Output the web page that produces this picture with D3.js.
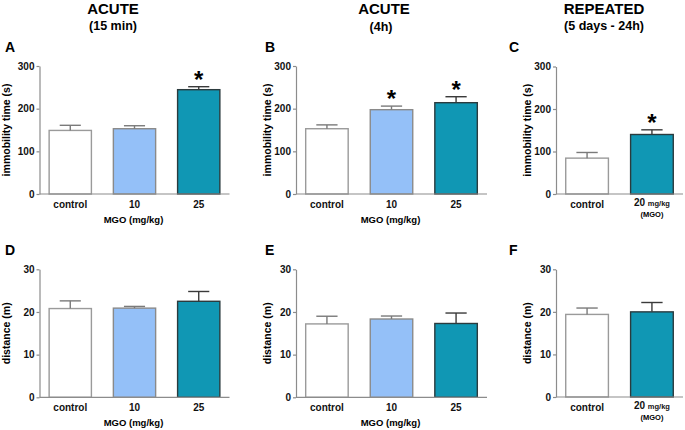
<!DOCTYPE html>
<html><head><meta charset="utf-8">
<script src="https://cdn.jsdelivr.net/npm/d3@7/dist/d3.min.js"></script>
<style>body{margin:0;background:#fff}svg{display:block;font-family:"Liberation Sans",Arial,sans-serif;font-weight:bold}</style>
</head><body>
<svg id="c" width="685" height="430"></svg>
<script>
// ---- data ----
const acuteGroups = ["control", "10", "25"];
const repeatedGroups = ["control", "20"];
const columnTitles = ["ACUTE", "ACUTE", "REPEATED"];
const columnSubtitles = ["(15 min)", "(4h)", "(5 days - 24h)"];
const panelLetters = ["A", "B", "C", "D", "E", "F"];

const immobilityA = [149, 153, 244.5];
const immobilityAErr = [12, 7, 7];
const immobilityASig = [false, false, true];
const immobilityB = [153, 197.6, 214];
const immobilityBErr = [9, 8.4, 14];
const immobilityBSig = [false, true, true];
const immobilityC = [84.4, 140];
const immobilityCErr = [13.3, 11];
const immobilityCSig = [false, true];

const distanceD = [20.8, 20.9, 22.5];
const distanceDErr = [1.8, 0.4, 2.3];
const distanceE = [17.2, 18.35, 17.3];
const distanceEErr = [1.8, 0.7, 2.45];
const distanceF = [19.4, 20.0];
const distanceFErr = [1.5, 2.2];

const immobilityTicks = [0, 100, 200, 300];
const distanceTicks = [0, 10, 20, 30];

// ---- styles ----
const fills = {"control": "#ffffff", "10": "#94c0f8", "25": "#1097b4", "20": "#1097b4"};
const strokes = {"control": "#9a9a9a", "10": "#8a8a8a", "25": "#2b3b3e", "20": "#2b3b3e"};
const errColor = {"control": "#7a7a7a", "10": "#7a7a7a", "25": "#3a3a3a", "20": "#3a3a3a"};
const axisColor = "#8c8c8c";

const svg = d3.select("#c");

// column headers
const headerX = [113, 384, 604];
columnTitles.forEach((t, i) => {
  svg.append("text").attr("x", headerX[i]).attr("y", 13.5).attr("text-anchor", "middle")
    .attr("font-size", 15).text(t);
  svg.append("text").attr("x", headerX[i] - (i === 1 ? 3 : 0)).attr("y", i === 1 ? 31 : 29.5).attr("text-anchor", "middle")
    .attr("font-size", 12.5).text(columnSubtitles[i]);
});

const panels = [
  {letter: 0, x0: 39.5, x1: 229.5, yBase: 194, yTop: 66, groups: acuteGroups, vals: immobilityA, err: immobilityAErr, sig: immobilityASig, ticks: immobilityTicks, ylabel: "immobility time (s)", labX: 6, letX: 5, mgo: true},
  {letter: 1, x0: 296, x1: 487, yBase: 194, yTop: 66, groups: acuteGroups, vals: immobilityB, err: immobilityBErr, sig: immobilityBSig, ticks: immobilityTicks, ylabel: "immobility time (s)", labX: 267, letX: 265, mgo: true},
  {letter: 2, x0: 556, x1: 683, yBase: 194, yTop: 66.5, groups: repeatedGroups, vals: immobilityC, err: immobilityCErr, sig: immobilityCSig, ticks: immobilityTicks, ylabel: "immobility time (s)", labX: 527, letX: 509, mgo: false},
  {letter: 3, x0: 39.5, x1: 229.5, yBase: 397.3, yTop: 269.3, groups: acuteGroups, vals: distanceD, err: distanceDErr, sig: null, ticks: distanceTicks, ylabel: "distance (m)", labX: 6, letX: 5, mgo: true},
  {letter: 4, x0: 296, x1: 487, yBase: 397.3, yTop: 269.3, groups: acuteGroups, vals: distanceE, err: distanceEErr, sig: null, ticks: distanceTicks, ylabel: "distance (m)", labX: 267, letX: 265, mgo: true},
  {letter: 5, x0: 556, x1: 683, yBase: 397, yTop: 269.3, groups: repeatedGroups, vals: distanceF, err: distanceFErr, sig: null, ticks: distanceTicks, ylabel: "distance (m)", labX: 527, letX: 509, mgo: false}
];

panels.forEach(p => {
  const g = svg.append("g");
  const yMax = p.ticks[p.ticks.length - 1];
  const y = d3.scaleLinear().domain([0, yMax]).range([p.yBase, p.yTop]);
  const x = d3.scaleBand().domain(p.groups).range([p.x0, p.x1]).paddingInner(0.342).paddingOuter(0.15);

  // panel letter
  g.append("text").attr("x", p.letX).attr("y", p.yBase - 142).attr("font-size", 14).text(panelLetters[p.letter]);

  // bars
  p.groups.forEach((k, i) => {
    const bx = x(k), bw = x.bandwidth();
    const top = y(p.vals[i]);
    g.append("rect").attr("x", bx).attr("y", top).attr("width", bw).attr("height", p.yBase - top)
      .attr("fill", fills[k]).attr("stroke", strokes[k]).attr("stroke-width", 1.4);
    const cx = bx + bw / 2;
    const et = y(p.vals[i] + p.err[i]);
    g.append("line").attr("x1", cx).attr("x2", cx).attr("y1", top).attr("y2", et)
      .attr("stroke", errColor[k]).attr("stroke-width", 1.4);
    g.append("line").attr("x1", cx - bw / 4).attr("x2", cx + bw / 4).attr("y1", et).attr("y2", et)
      .attr("stroke", errColor[k]).attr("stroke-width", 1.4);
    if (p.sig && p.sig[i]) {
      g.append("text").attr("x", cx).attr("y", et + 1).attr("text-anchor", "middle")
        .attr("font-size", 24).text("*");
    }
  });

  // y axis
  const ya = g.append("g").attr("transform", `translate(${p.x0},0)`)
    .call(d3.axisLeft(y).tickValues(p.ticks).tickSize(3).tickPadding(2).tickSizeOuter(0));
  ya.select(".domain").attr("stroke", axisColor).attr("stroke-width", 1.2);
  ya.selectAll(".tick line").attr("stroke", axisColor).attr("stroke-width", 1.2);
  ya.selectAll(".tick text").attr("font-size", 10).attr("font-weight", "bold").attr("fill", "#111")
    .attr("font-family", '"Liberation Sans",Arial,sans-serif');

  // x axis
  const xa = g.append("g").attr("transform", `translate(0,${p.yBase})`)
    .call(d3.axisBottom(x).tickSize(0).tickPadding(7).tickSizeOuter(0));
  xa.select(".domain").attr("stroke", axisColor).attr("stroke-width", 1.2)
    .attr("d", `M${p.x0},0H${p.x1}`);
  xa.selectAll(".tick text").attr("font-size", 10).attr("font-weight", "bold").attr("fill", "#111")
    .attr("font-family", '"Liberation Sans",Arial,sans-serif');
  if (!p.mgo) {
    xa.selectAll(".tick text").filter(d => d === "20").each(function () {
      const t = d3.select(this);
      t.text(null);
      t.attr("dy", "0.71em").attr("y", 5);
      t.append("tspan").text("20 ");
      t.append("tspan").attr("font-size", 7.5).text("mg/kg");
    });
    const last = p.groups[p.groups.length - 1];
    g.append("text").attr("x", x(last) + x.bandwidth() / 2).attr("y", p.yBase + 23)
      .attr("text-anchor", "middle").attr("font-size", 7.5).text("(MGO)");
  } else {
    g.append("text").attr("x", (p.x0 + p.x1) / 2 - 1).attr("y", p.yBase + 28.5)
      .attr("text-anchor", "middle").attr("font-size", 9.5).text("MGO (mg/kg)");
  }

  // y label
  g.append("text").attr("transform", `translate(${p.labX + 3.5},${(p.yBase + p.yTop) / 2}) rotate(-90)`)
    .attr("text-anchor", "middle").attr("font-size", 10.5).text(p.ylabel);
});
</script>
</body></html>
